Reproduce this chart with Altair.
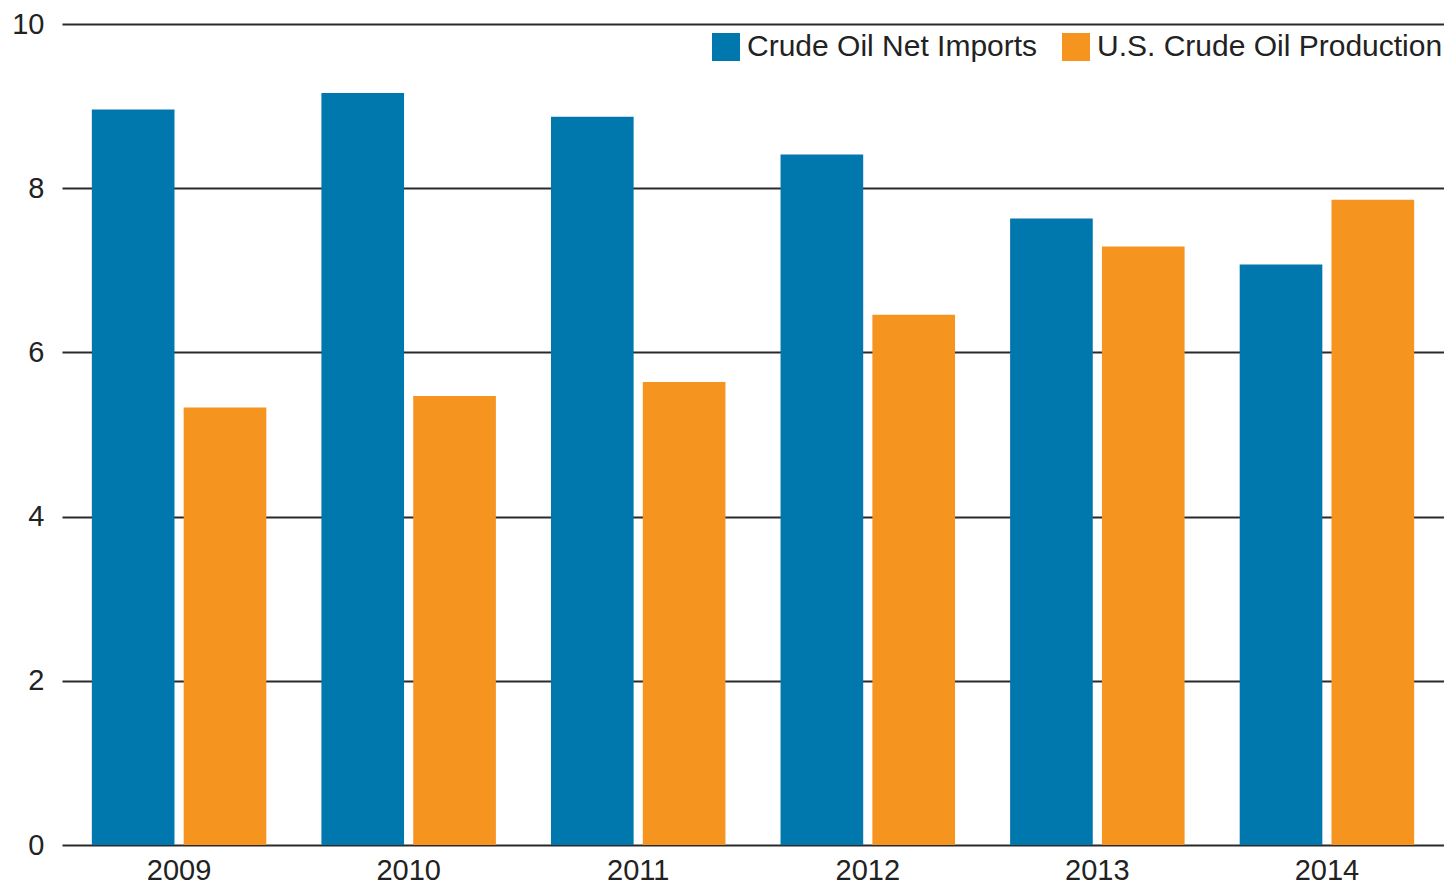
import altair as alt
import pandas as pd

years = ["2009", "2010", "2011", "2012", "2013", "2014"]
series = ["Crude Oil Net Imports", "U.S. Crude Oil Production"]
net_imports = [8.96, 9.16, 8.87, 8.41, 7.63, 7.07]
production = [5.33, 5.47, 5.64, 6.46, 7.29, 7.86]
colors = ["#0178ad", "#f5941f"]

rows = []
for i, y in enumerate(years):
    rows.append({"year": y, "series": series[0], "value": net_imports[i]})
    rows.append({"year": y, "series": series[1], "value": production[i]})
df = pd.DataFrame(rows)

FONT = "Liberation Sans"

chart = alt.Chart(df).mark_bar().encode(
    x=alt.X("year:N", sort=years, title=None,
            scale=alt.Scale(paddingInner=0.24, paddingOuter=0.13),
            axis=alt.Axis(labelAngle=0, labelFontSize=29, labelFont=FONT,
                          labelColor="#222222", ticks=False, domain=False,
                          labelPadding=11, grid=False)),
    xOffset=alt.XOffset("series:N", sort=series,
                        scale=alt.Scale(paddingInner=0.1, paddingOuter=0)),
    y=alt.Y("value:Q", title=None,
            scale=alt.Scale(domain=[0, 10], nice=False),
            axis=alt.Axis(values=[0, 2, 4, 6, 8, 10], labelFontSize=29,
                          labelFont=FONT, labelColor="#222222", ticks=False,
                          domain=False, labelPadding=18, grid=True,
                          gridColor="#2a2a2a", gridWidth=1.8, gridOpacity=1)),
    color=alt.Color("series:N", sort=series, title=None,
                    scale=alt.Scale(domain=series, range=colors),
                    legend=alt.Legend(orient="none", legendX=649, legendY=8,
                                      direction="horizontal", symbolType="square",
                                      symbolSize=784, symbolStrokeWidth=0,
                                      symbolOpacity=1, labelFontSize=30,
                                      labelFont=FONT, labelColor="#222222",
                                      labelOffset=6, columnPadding=23,
                                      labelLimit=600, padding=0)),
).properties(
    width=1382,
    height=821,
    autosize=alt.AutoSizeParams(type="none"),
    padding={"left": 54, "top": 16, "right": 0, "bottom": 40},
).configure_view(stroke=None)

chart.save("out.html", embed_options={"renderer": "svg", "actions": False})
